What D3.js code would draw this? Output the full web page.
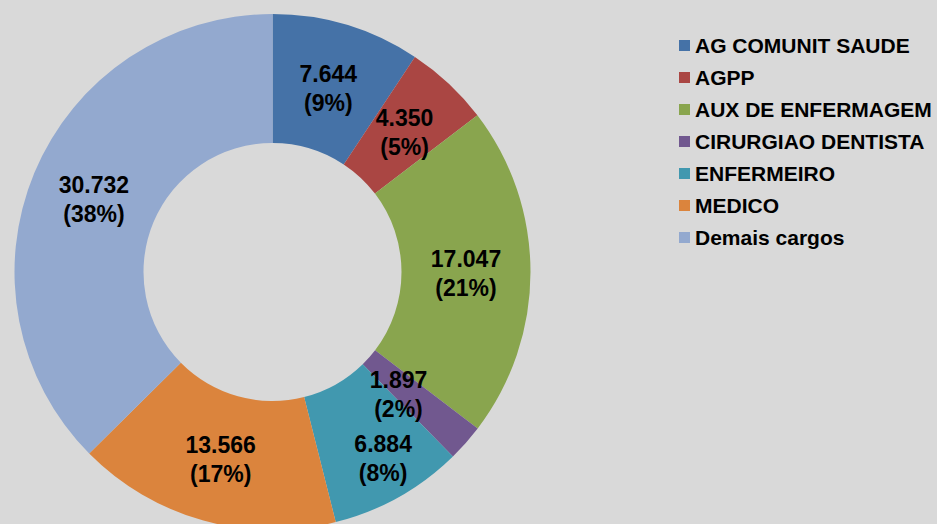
<!DOCTYPE html>
<html>
<head>
<meta charset="utf-8">
<script src="https://cdn.jsdelivr.net/npm/d3@7"></script>
<style>
  body { margin: 0; background: #d9d9d9; }
  text { font-family: "Liberation Sans", Arial, sans-serif; font-weight: bold; fill: #000; }
</style>
</head>
<body>
<div id="chart"></div>
<script>
// chart data
let categories = ['AG COMUNIT SAUDE', 'AGPP', 'AUX DE ENFERMAGEM', 'CIRURGIAO DENTISTA', 'ENFERMEIRO', 'MEDICO', 'Demais cargos'];
let values = [7644, 4350, 17047, 1897, 6884, 13566, 30732];
// percentages as printed on the chart
let percents = [9, 5, 21, 2, 8, 17, 38];
let colors = ['#4572a7', '#aa4643', '#89a54e', '#71588f', '#4198af', '#db843d', '#93a9cf'];

let svgWidth = 937;
let svgHeight = 524;

let svg = d3.select('#chart')
  .append('svg')
  .attr('width', svgWidth)
  .attr('height', svgHeight);

svg.append('rect')
  .attr('width', svgWidth)
  .attr('height', svgHeight)
  .attr('fill', '#d9d9d9');

// donut geometry
let cx = 272.5, cy = 272;
let outerR = 258, innerR = 129;

// small label nudges (the two crowded labels were spread apart)
let labelShift = { 'CIRURGIAO DENTISTA': [-19, -7], 'ENFERMEIRO': [16, 16] };

let pie = d3.pie().sort(null).value(d => d);
let arcs = pie(values);

let arc = d3.arc().innerRadius(innerR).outerRadius(outerR);

let chartGroup = svg.append('g')
  .attr('transform', `translate(${cx}, ${cy})`);

chartGroup.selectAll('path')
  .data(arcs)
  .enter()
  .append('path')
  .attr('d', arc)
  .attr('fill', (d, i) => colors[i]);

// data labels at the slice centroid
let labels = chartGroup.selectAll('.lbl')
  .data(arcs)
  .enter()
  .append('text')
  .attr('class', 'lbl')
  .attr('text-anchor', 'middle')
  .attr('font-size', '23px')
  .attr('transform', (d, i) => {
    let c = arc.centroid(d);
    let s = labelShift[categories[i]] || [0, 0];
    return `translate(${c[0] + s[0]}, ${c[1] + s[1]})`;
  });

labels.append('tspan')
  .attr('x', 0)
  .attr('y', -5)
  .text(d => d3.format(',')(d.value).replace(/,/g, '.'));

labels.append('tspan')
  .attr('x', 0)
  .attr('y', 24)
  .text((d, i) => '(' + percents[i] + '%)');

// legend
let legend = svg.append('g')
  .attr('transform', 'translate(679, 45.5)');

let items = legend.selectAll('g')
  .data(categories)
  .enter()
  .append('g')
  .attr('transform', (d, i) => `translate(0, ${i * 32})`);

items.append('rect')
  .attr('x', 0)
  .attr('y', -5.5)
  .attr('width', 11)
  .attr('height', 11)
  .attr('fill', (d, i) => colors[i]);

items.append('text')
  .attr('x', 16)
  .attr('y', 7)
  .attr('font-size', '21px')
  .text(d => d);
</script>
</body>
</html>
